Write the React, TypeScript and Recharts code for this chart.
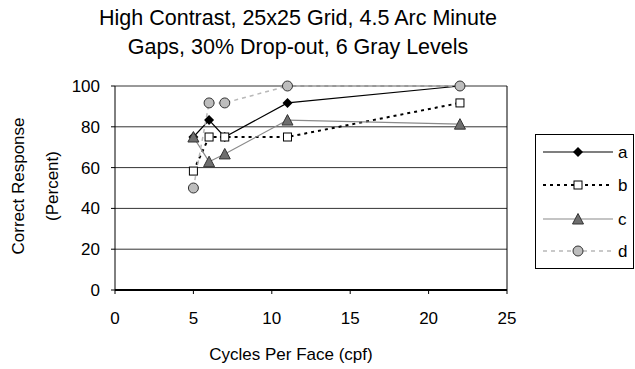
import React from "react";
import { CartesianGrid, Line, LineChart, ReferenceLine, XAxis, YAxis } from "recharts";

// Cycles per face tested and percent correct for each observer
const cycles = [5, 6, 7, 11, 22];
const seriesA = [75, 83.3, 75, 91.7, 100];
const seriesB = [58.3, 75, 75, 75, 91.7];
const seriesC = [75, 62.9, 66.7, 83.3, 81.3];
const seriesD = [50, 91.7, 91.7, 100, 100];

const xTicks = [0, 5, 10, 15, 20, 25];
const yTicks = [0, 20, 40, 60, 80, 100];

const rows = cycles.map((c, i) => ({
  cpf: c,
  a: seriesA[i],
  b: seriesB[i],
  c: seriesC[i],
  d: seriesD[i],
}));

type Shape = "diamond" | "square" | "triangle" | "circle";

const series: Array<{
  key: string;
  shape: Shape;
  stroke: string;
  width: number;
  dash?: string;
}> = [
  { key: "a", shape: "diamond", stroke: "#000", width: 1.2 },
  { key: "b", shape: "square", stroke: "#000", width: 2, dash: "3 4" },
  { key: "c", shape: "triangle", stroke: "#8a8a8a", width: 1.2 },
  { key: "d", shape: "circle", stroke: "#b8b8b8", width: 1.5, dash: "4 4" },
];

const FONT = "'Liberation Sans', Arial, sans-serif";

function Marker({ shape, cx, cy }: { shape: Shape; cx: number; cy: number }) {
  if (cx == null || cy == null) return null;
  switch (shape) {
    case "diamond":
      return (
        <polygon
          points={`${cx},${cy - 5} ${cx + 5},${cy} ${cx},${cy + 5} ${cx - 5},${cy}`}
          fill="#000"
        />
      );
    case "square":
      return <rect x={cx - 4} y={cy - 4} width={8} height={8} fill="#fff" stroke="#000" strokeWidth={1} />;
    case "triangle":
      return (
        <polygon
          points={`${cx},${cy - 5.5} ${cx + 5.5},${cy + 5} ${cx - 5.5},${cy + 5}`}
          fill="#6e6e6e"
          stroke="#333"
          strokeWidth={1}
        />
      );
    default:
      return <circle cx={cx} cy={cy} r={5} fill="#bdbdbd" stroke="#333" strokeWidth={1} />;
  }
}

function LegendBox() {
  const rowY = [18, 51, 85, 117];
  return (
    <svg
      width={99}
      height={135}
      style={{ position: "absolute", left: 535, top: 134, overflow: "visible" }}
    >
      <rect x={0.5} y={0.5} width={98} height={134} fill="#fff" stroke="#000" />
      {series.map((s, i) => (
        <g key={s.key}>
          <line
            x1={8}
            x2={78}
            y1={rowY[i]}
            y2={rowY[i]}
            stroke={s.stroke}
            strokeWidth={s.width}
            strokeDasharray={s.dash}
          />
          <Marker shape={s.shape} cx={43} cy={rowY[i]} />
          <text x={83} y={rowY[i]} dy="0.36em" fontSize={17} fontFamily={FONT} fill="#000">
            {s.key}
          </text>
        </g>
      ))}
    </svg>
  );
}

export default function App() {
  return (
    <div style={{ position: "relative", width: 635, height: 369, background: "#fff", fontFamily: FONT }}>
      <style>{`body{margin:0}`}</style>
      <div
        style={{
          position: "absolute",
          left: 48,
          width: 500,
          top: 4,
          textAlign: "center",
          fontSize: 21.5,
          lineHeight: "29px",
          color: "#000",
        }}
      >
        High Contrast, 25x25 Grid, 4.5 Arc Minute
        <br />
        Gaps, 30% Drop-out, 6 Gray Levels
      </div>

      <LineChart
        width={635}
        height={369}
        data={rows}
        margin={{ top: 86, right: 128, bottom: 49, left: 75 }}
      >
        <CartesianGrid vertical={false} stroke="#333" strokeWidth={1} />
        <XAxis
          dataKey="cpf"
          type="number"
          domain={[0, 25]}
          ticks={xTicks}
          height={30}
          tickSize={4}
          tickMargin={18}
          axisLine={{ stroke: "#000", strokeWidth: 2 }}
          tickLine={{ stroke: "#000" }}
          tick={{ fill: "#000", fontSize: 17, fontFamily: FONT }}
        />
        <YAxis
          type="number"
          domain={[0, 100]}
          ticks={yTicks}
          width={40}
          tickSize={4}
          tickMargin={11}
          axisLine={{ stroke: "#000" }}
          tickLine={{ stroke: "#000" }}
          tick={{ fill: "#000", fontSize: 17, fontFamily: FONT }}
        />
        <ReferenceLine x={25} stroke="#000" />
        {series.map((s) => (
          <Line
            key={s.key}
            dataKey={s.key}
            stroke={s.stroke}
            strokeWidth={s.width}
            strokeDasharray={s.dash}
            isAnimationActive={false}
            dot={(p: any) => <Marker key={`${s.key}-${p.index}`} shape={s.shape} cx={p.cx} cy={p.cy} />}
            activeDot={false}
          />
        ))}
      </LineChart>

      <div
        style={{
          position: "absolute",
          left: 0,
          top: 186,
          width: 72,
        }}
      >
        <div
          style={{
            position: "absolute",
            left: 36,
            top: 0,
            transform: "translate(-50%, -50%) rotate(-90deg)",
            whiteSpace: "nowrap",
            textAlign: "center",
            fontSize: 17,
            lineHeight: "34px",
          }}
        >
          Correct Response
          <br />
          (Percent)
        </div>
      </div>

      <div
        style={{
          position: "absolute",
          left: 91,
          width: 400,
          top: 345,
          textAlign: "center",
          fontSize: 17,
        }}
      >
        Cycles Per Face (cpf)
      </div>

      <LegendBox />
    </div>
  );
}
